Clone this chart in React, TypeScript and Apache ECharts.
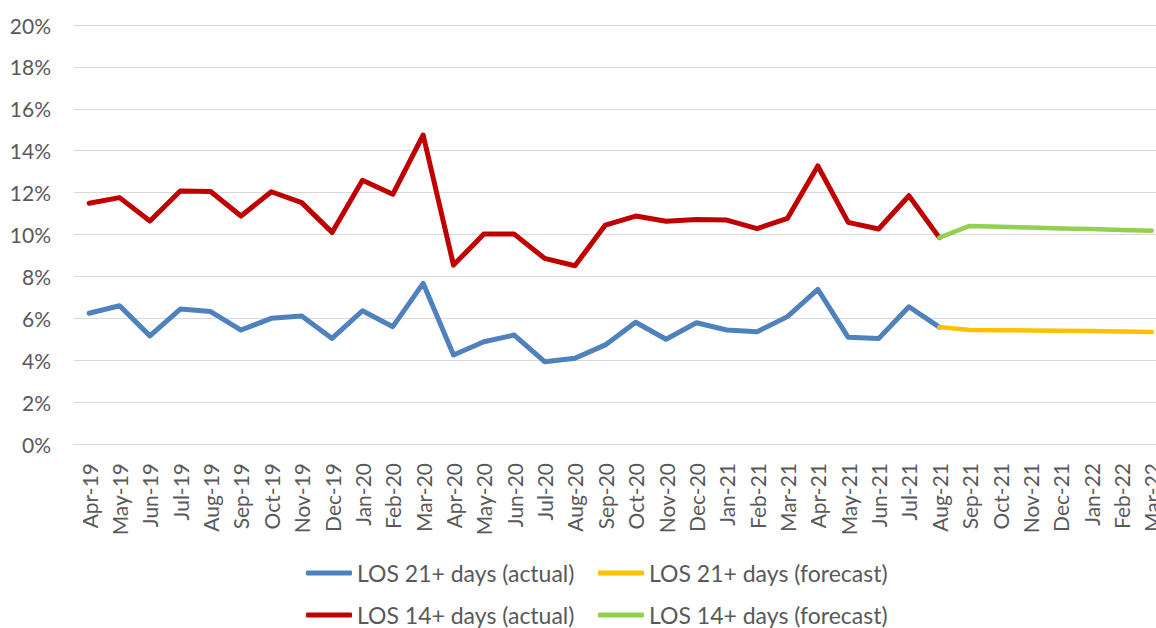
import React, { useEffect, useRef } from "react";
import * as echarts from "echarts";

const categories = [
  "Apr-19", "May-19", "Jun-19", "Jul-19", "Aug-19", "Sep-19", "Oct-19", "Nov-19", "Dec-19",
  "Jan-20", "Feb-20", "Mar-20", "Apr-20", "May-20", "Jun-20", "Jul-20", "Aug-20", "Sep-20",
  "Oct-20", "Nov-20", "Dec-20", "Jan-21", "Feb-21", "Mar-21", "Apr-21", "May-21", "Jun-21",
  "Jul-21", "Aug-21", "Sep-21", "Oct-21", "Nov-21", "Dec-21", "Jan-22", "Feb-22", "Mar-22",
];

// values in percent
const los21Actual = [
  6.24, 6.6, 5.16, 6.44, 6.32, 5.44, 6.0, 6.11, 5.04, 6.36, 5.6, 7.67, 4.25, 4.88, 5.2, 3.93,
  4.09, 4.73, 5.81, 5.0, 5.79, 5.44, 5.36, 6.08, 7.38, 5.09, 5.03, 6.55, 5.58,
];
const los21Forecast = [5.58, 5.44, 5.43, 5.42, 5.4, 5.39, 5.37, 5.35];

const los14Actual = [
  11.49, 11.76, 10.64, 12.08, 12.05, 10.88, 12.04, 11.52, 10.1, 12.59, 11.92, 14.75, 8.54,
  10.02, 10.02, 8.86, 8.51, 10.45, 10.88, 10.63, 10.72, 10.69, 10.28, 10.77, 13.27, 10.58,
  10.26, 11.85, 9.85,
];
const los14Forecast = [9.85, 10.41, 10.37, 10.33, 10.29, 10.26, 10.22, 10.18];

const yTicks = { min: 0, max: 20, interval: 2 };

const names = [
  "LOS 21+ days (actual)",
  "LOS 21+ days (forecast)",
  "LOS 14+ days (actual)",
  "LOS 14+ days (forecast)",
];
const colors = ["#4F81BD", "#FFC000", "#C00000", "#92D050"];

function padActual(arr: number[]) {
  return categories.map((_, i) => (i < arr.length ? arr[i] : "-"));
}
function padForecast(arr: number[]) {
  const start = categories.length - arr.length;
  return categories.map((_, i) => (i >= start ? arr[i - start] : "-"));
}

export default function App() {
  const ref = useRef<HTMLDivElement>(null);
  useEffect(() => {
    if (!ref.current) return;
    const chart = echarts.init(ref.current, null, { renderer: "svg" });
    const font = "Lato";
    const textColor = "#595959";
    const legendPos = [
      { left: 306, top: 561 },
      { left: 598, top: 561 },
      { left: 306, top: 603 },
      { left: 598, top: 603 },
    ];
    const seriesData = [
      padActual(los21Actual),
      padForecast(los21Forecast),
      padActual(los14Actual),
      padForecast(los14Forecast),
    ];
    const widths = [5, 4.5, 5, 4.5];
    chart.setOption({
      animation: false,
      textStyle: { fontFamily: font },
      grid: { left: 74, top: 25, height: 419, width: 1093, containLabel: false },
      legend: names.map((n, i) => ({
        data: [{ name: n, icon: "roundRect" }],
        left: legendPos[i].left,
        top: legendPos[i].top,
        itemWidth: 46,
        itemHeight: 5,
        padding: 0,
        textStyle: { color: textColor, fontSize: 23, fontFamily: font, lineHeight: 24 },
      })),
      xAxis: {
        type: "category",
        data: categories,
        boundaryGap: true,
        axisLine: { show: true, lineStyle: { color: "#d9d9d9", width: 1 } },
        axisTick: { show: false },
        axisLabel: {
          rotate: 90,
          interval: 0,
          color: textColor,
          fontSize: 21,
          fontFamily: font,
          margin: 19,
        },
      },
      yAxis: {
        type: "value",
        min: yTicks.min,
        max: yTicks.max,
        interval: yTicks.interval,
        axisLine: { show: false },
        axisTick: { show: false },
        splitLine: { lineStyle: { color: "#d9d9d9", width: 1 } },
        axisLabel: {
          formatter: "{value}%",
          color: textColor,
          fontSize: 21,
          fontFamily: font,
          margin: 23,
        },
      },
      series: [0, 1, 2, 3].map((i) => ({
        name: names[i],
        type: "line",
        data: seriesData[i],
        showSymbol: false,
        symbol: "none",
        z: i === 1 || i === 3 ? 3 : 2,
        lineStyle: { color: colors[i], width: widths[i], cap: "round", join: "round" },
        itemStyle: { color: colors[i] },
      })),
    });
    return () => chart.dispose();
  }, []);
  return (
    <div
      style={{ position: "absolute", left: 0, top: 0, width: 1156, height: 628, overflow: "hidden" }}
    >
      <div ref={ref} style={{ width: 1190, height: 628 }} />
    </div>
  );
}
